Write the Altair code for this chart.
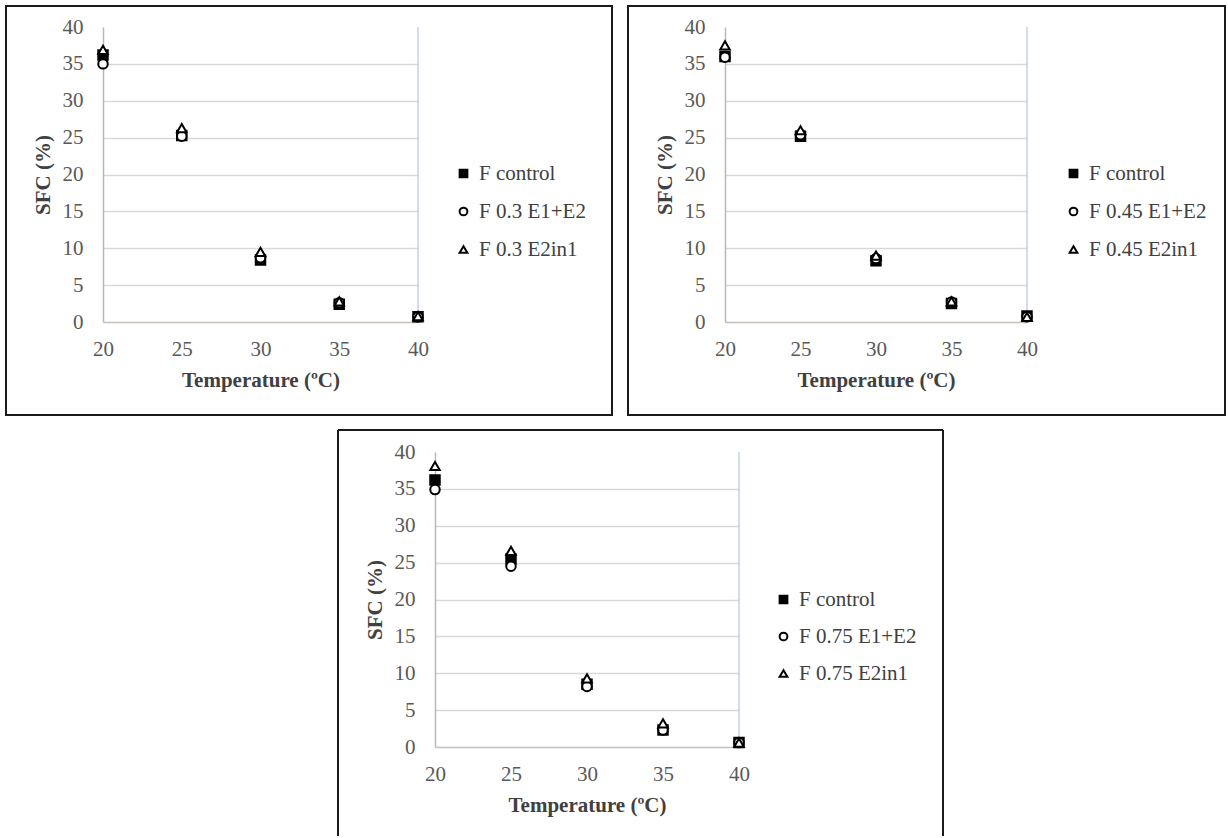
import altair as alt
import pandas as pd

temps = [20, 25, 30, 35, 40]

names_03 = ["F control", "F 0.3 E1+E2", "F 0.3 E2in1"]
p03_control = [36.2, 25.3, 8.4, 2.4, 0.7]
p03_e1e2 = [35.0, 25.2, 8.7, 2.6, 0.7]
p03_e2in1 = [36.9, 26.3, 9.5, 2.8, 0.8]

names_045 = ["F control", "F 0.45 E1+E2", "F 0.45 E2in1"]
p045_control = [36.0, 25.2, 8.3, 2.5, 0.8]
p045_e1e2 = [35.9, 25.4, 8.6, 2.7, 0.7]
p045_e2in1 = [37.5, 26.0, 9.0, 2.8, 0.7]

names_075 = ["F control", "F 0.75 E1+E2", "F 0.75 E2in1"]
p075_control = [36.2, 25.5, 8.5, 2.3, 0.6]
p075_e1e2 = [34.9, 24.5, 8.2, 2.3, 0.6]
p075_e2in1 = [38.1, 26.6, 9.3, 3.2, 0.6]

x_ticks = [20, 25, 30, 35, 40]
y_ticks = [0, 5, 10, 15, 20, 25, 30, 35, 40]

FONT = "Liberation Serif"


def make_df(names, series):
    rows = []
    for name, vals in zip(names, series):
        for t, v in zip(temps, vals):
            rows.append({"T": t, "SFC": v, "series": name})
    return pd.DataFrame(rows)


def panel(names, series, w, h, frame, legend_xy, row_pad, bottom_open=False):
    df = make_df(names, series)
    leg = alt.Legend(
        title=None, orient="none", legendX=legend_xy[0], legendY=legend_xy[1],
        labelFont=FONT, labelFontSize=21, labelColor="#404040", labelOffset=5,
        symbolStrokeWidth=2, symbolSize=60,
        rowPadding=row_pad, padding=0,
    )
    xscale = alt.Scale(domain=[20, 40], nice=False, zero=False)
    xaxis = alt.Axis(values=x_ticks, grid=False, title="Temperature (ºC)",
                     tickSize=0, labelPadding=16, titlePadding=10,
                     domainColor="#c8c0b8", domainWidth=1.5, labelFlush=False)
    x = alt.X("T:Q", scale=xscale, axis=xaxis)
    y = alt.Y("SFC:Q", scale=alt.Scale(domain=[0, 40], nice=False),
              axis=alt.Axis(values=y_ticks, grid=True, title="SFC (%)",
                            gridColor=alt.condition("datum.value == 40 || datum.value == 0",
                                                    alt.value("transparent"), alt.value("#d9d9d9")),
                            gridWidth=1.3, tickSize=0, labelPadding=20, titlePadding=9,
                            domainColor="#b8b8b8", domainWidth=1.5, labelFlush=False))
    pts = alt.Chart(df).mark_point(filled=False, strokeWidth=2, size=90, opacity=1).encode(
        x=x, y=y,
        shape=alt.Shape("series:N", scale=alt.Scale(domain=names, range=["square", "circle", "triangle-up"]), legend=leg),
        fill=alt.Fill("series:N", scale=alt.Scale(domain=names, range=["black", "white", "white"]), legend=leg),
        stroke=alt.Stroke("series:N", scale=alt.Scale(domain=names, range=["black", "black", "black"]), legend=leg),
    )
    one = pd.DataFrame({"k": [40]})
    blue = alt.Chart(one).mark_rule(color="#b4c6e7", strokeWidth=1.2).encode(
        x=alt.X("k:Q", scale=xscale, axis=xaxis), y=alt.value(0), y2=alt.value(h))
    x0, x1, y0, y1 = frame
    layers = [blue, pts]
    if not bottom_open:
        fr = alt.Chart(one).mark_rect(fill=None, stroke="#1a1a1a", strokeWidth=2).encode(
            x=alt.value(x0), x2=alt.value(x1), y=alt.value(y0), y2=alt.value(y1))
        layers.append(fr)
    else:
        for a, b, c, d in [(x0, x0, y0, y1), (x0, x1, y0, y0), (x1, x1, y0, y1)]:
            layers.append(alt.Chart(one).mark_rule(color="#1a1a1a", strokeWidth=2).encode(
                x=alt.value(a), x2=alt.value(b), y=alt.value(c), y2=alt.value(d)))
    return alt.layer(*layers).properties(width=w, height=h).resolve_scale(
        shape="shared", fill="shared", stroke="shared")


p1 = panel(names_03, [p03_control, p03_e1e2, p03_e2in1], 315, 295,
           (-97, 509, -21, 388), (350, 136), 16)
p2 = panel(names_045, [p045_control, p045_e1e2, p045_e2in1], 302, 295,
           (-97, 500, -21, 388), (338, 136), 16)
p3 = panel(names_075, [p075_control, p075_e1e2, p075_e2in1], 304, 295,
           (-97, 508, -22, 384), (338, 137), 15, bottom_open=True)

SPACER_W = 234
spacer = alt.Chart(pd.DataFrame({"k": [0]})).mark_rule(opacity=0, strokeWidth=0).encode(
    x=alt.value(0), x2=alt.value(SPACER_W), y=alt.value(0)).properties(width=SPACER_W, height=10)

res = dict(shape="independent", fill="independent", stroke="independent",
           x="independent", y="independent")
lres = dict(shape="independent", fill="independent", stroke="independent")
top = alt.hconcat(p1, p2, spacing=14).resolve_scale(**res).resolve_legend(**lres)
bottom = alt.hconcat(spacer, p3, spacing=0).resolve_scale(**res).resolve_legend(**lres)

chart = alt.vconcat(top, bottom, spacing=13).resolve_scale(**res).resolve_legend(**lres).properties(
    padding={"left": 5, "top": 5, "right": 0, "bottom": 0}
).configure_view(stroke=None).configure_axis(
    labelFont=FONT, labelFontSize=21, labelColor="#595959",
    titleFont=FONT, titleFontSize=21, titleFontWeight="bold", titleColor="#404040",
)

chart.save("out.html", embed_options={"renderer": "svg", "actions": False})
